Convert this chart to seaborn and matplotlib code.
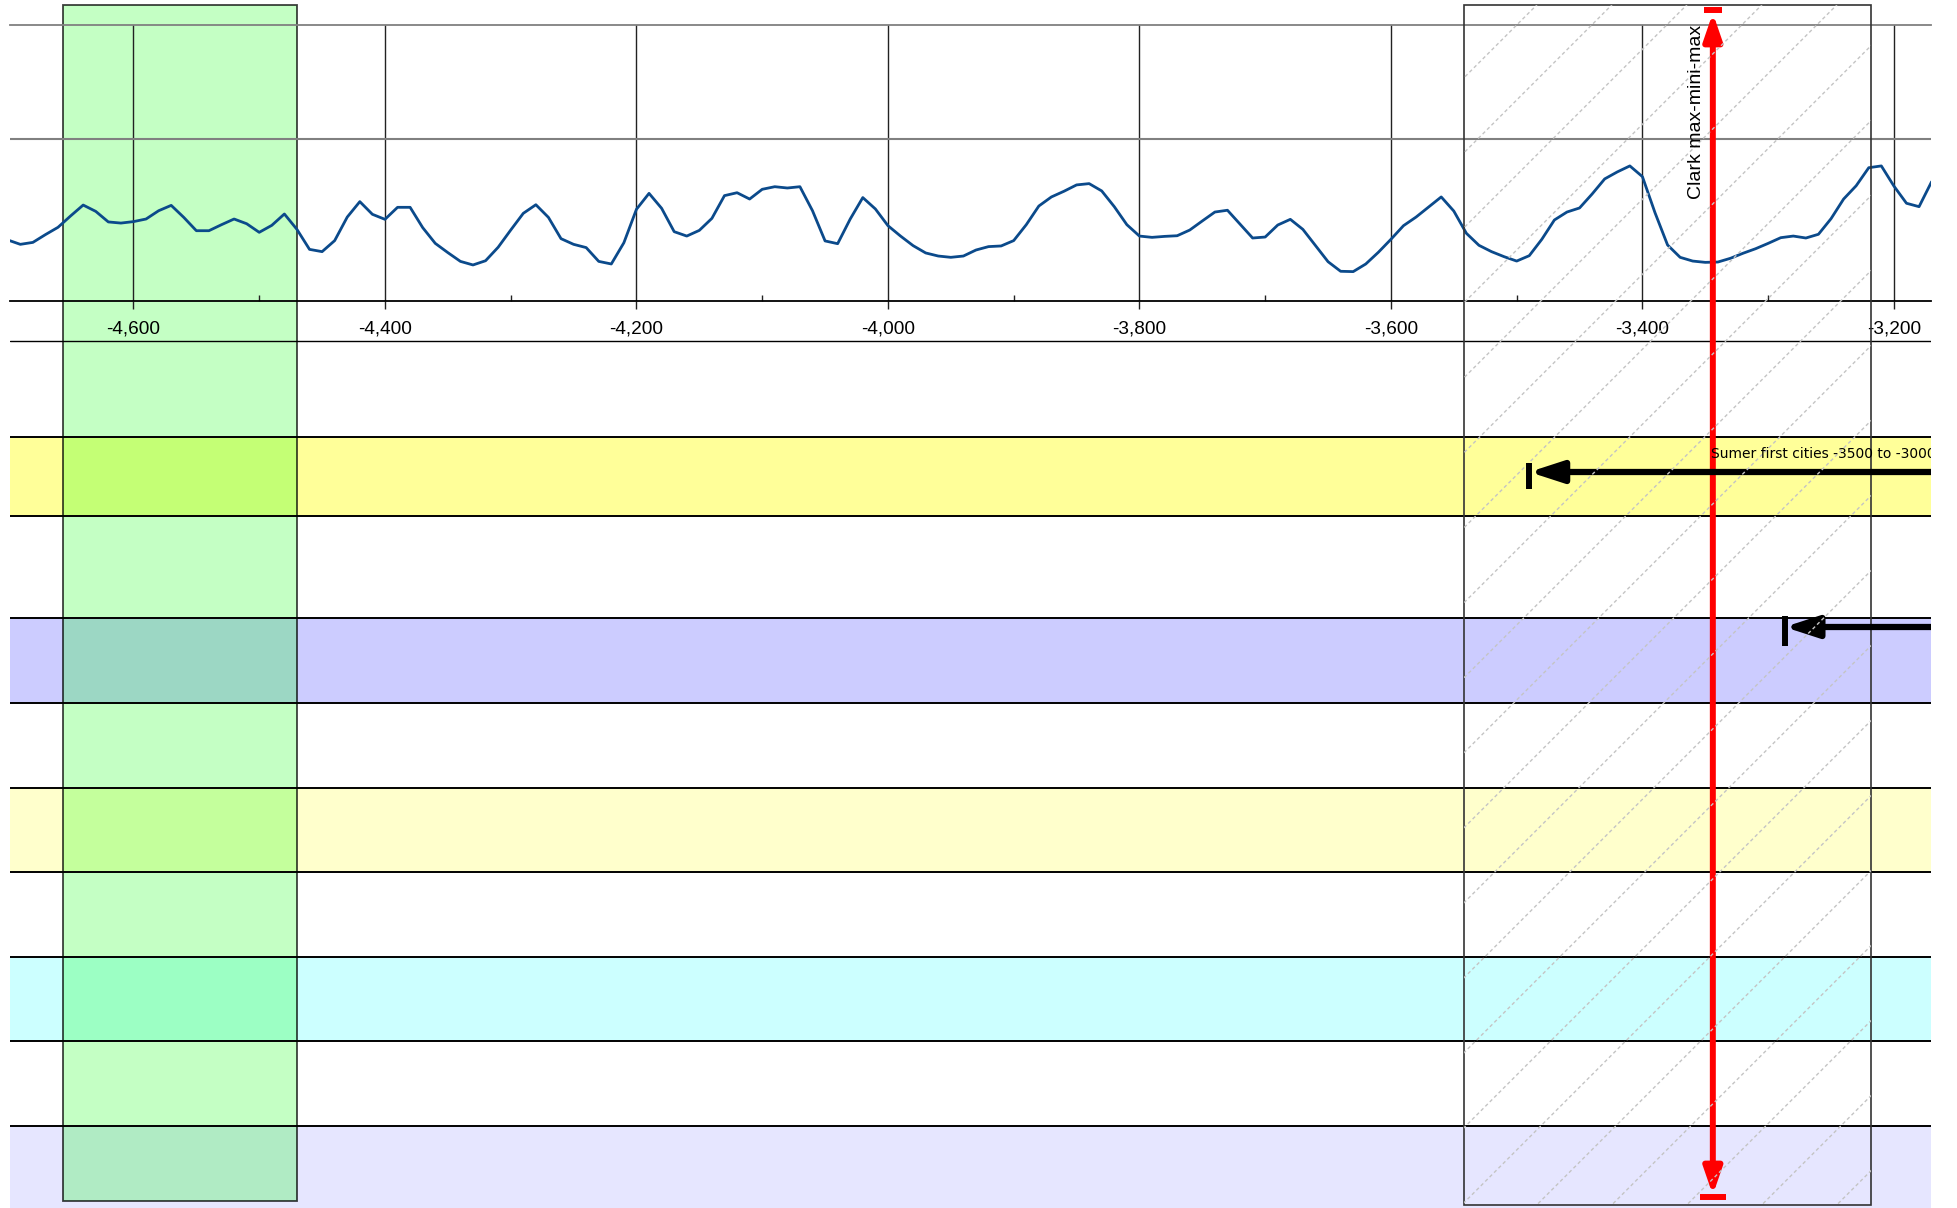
# coding: utf-8
"""
Frise chronologique -4700 / -3170 : courbe du haut et bandes de civilisations
"""

import seaborn as sns
import matplotlib.pyplot as plt
import matplotlib.ticker as tck
from matplotlib.lines import Line2D
from matplotlib.patches import FancyArrowPatch

sns.set_style('white')
plt.rcParams['font.family'] = ['Liberation Sans', 'DejaVu Sans']

# --- données -------------------------------------------------------------
years = [
    -4700, -4690, -4680, -4670, -4660, -4650, -4640, -4630, -4620, -4610,
    -4600, -4590, -4580, -4570, -4560, -4550, -4540, -4530, -4520, -4510,
    -4500, -4490, -4480, -4470, -4460, -4450, -4440, -4430, -4420, -4410,
    -4400, -4390, -4380, -4370, -4360, -4350, -4340, -4330, -4320, -4310,
    -4300, -4290, -4280, -4270, -4260, -4250, -4240, -4230, -4220, -4210,
    -4200, -4190, -4180, -4170, -4160, -4150, -4140, -4130, -4120, -4110,
    -4100, -4090, -4080, -4070, -4060, -4050, -4040, -4030, -4020, -4010,
    -4000, -3990, -3980, -3970, -3960, -3950, -3940, -3930, -3920, -3910,
    -3900, -3890, -3880, -3870, -3860, -3850, -3840, -3830, -3820, -3810,
    -3800, -3790, -3780, -3770, -3760, -3750, -3740, -3730, -3720, -3710,
    -3700, -3690, -3680, -3670, -3660, -3650, -3640, -3630, -3620, -3610,
    -3600, -3590, -3580, -3570, -3560, -3550, -3540, -3530, -3520, -3510,
    -3500, -3490, -3480, -3470, -3460, -3450, -3440, -3430, -3420, -3410,
    -3400, -3390, -3380, -3370, -3360, -3350, -3340, -3330, -3320, -3310,
    -3300, -3290, -3280, -3270, -3260, -3250, -3240, -3230, -3220, -3210,
    -3200, -3190, -3180, -3170,
]
values = [
    0.376, 0.349, 0.361, 0.409, 0.454, 0.524, 0.591, 0.552, 0.487, 0.480,
    0.489, 0.505, 0.556, 0.589, 0.515, 0.433, 0.433, 0.470, 0.505, 0.476,
    0.423, 0.466, 0.536, 0.441, 0.318, 0.304, 0.372, 0.517, 0.612, 0.534,
    0.503, 0.577, 0.577, 0.452, 0.355, 0.298, 0.244, 0.222, 0.248, 0.331,
    0.437, 0.540, 0.593, 0.515, 0.384, 0.349, 0.329, 0.244, 0.228, 0.359,
    0.565, 0.663, 0.571, 0.427, 0.400, 0.435, 0.509, 0.649, 0.667, 0.628,
    0.688, 0.704, 0.696, 0.704, 0.556, 0.370, 0.353, 0.505, 0.637, 0.567,
    0.464, 0.400, 0.341, 0.296, 0.277, 0.269, 0.277, 0.314, 0.335, 0.339,
    0.372, 0.470, 0.585, 0.641, 0.676, 0.715, 0.723, 0.678, 0.581, 0.470,
    0.400, 0.392, 0.398, 0.402, 0.437, 0.493, 0.548, 0.559, 0.474, 0.388,
    0.394, 0.468, 0.503, 0.441, 0.341, 0.242, 0.183, 0.181, 0.228, 0.300,
    0.380, 0.464, 0.517, 0.579, 0.641, 0.554, 0.417, 0.343, 0.304, 0.273,
    0.246, 0.279, 0.380, 0.499, 0.548, 0.573, 0.659, 0.752, 0.795, 0.832,
    0.766, 0.544, 0.345, 0.269, 0.246, 0.238, 0.240, 0.263, 0.294, 0.322,
    0.355, 0.390, 0.400, 0.388, 0.411, 0.507, 0.628, 0.710, 0.821, 0.832,
    0.708, 0.602, 0.581, 0.735,
]
y_grid = [1.0]

green_span = (-4656, -4470)
hatch_span = (-3542, -3218)
clark_year = -3344
clark_label = 'Clark max-mini-max'

sumer_label = 'Sumer first cities -3500 to -3000'
sumer_start, sumer_end = -3500, -3000
sumer_tip = -3490
second_tip, second_tail = -3287, -3000

band_colors = ['#ffff99', '#ccccff', '#ffffcc', '#ccffff', '#e6e6ff']

# --- mise en page (pixels) -----------------------------------------------
W, H = 1958, 1208
PLOT_L, PLOT_R = 10, 1931
CH_TOP, CH_BOT = 25, 301
X_MIN, X_MAX = -4698.2, -3170.5
bands = [(437, 516), (618, 703), (788, 872), (957, 1041), (1126, H)]
row_lines = [341, 437, 516, 618, 703, 788, 872, 957, 1041, 1126]

fig = plt.figure(figsize=(W / 100, H / 100), dpi=100)
rect = [PLOT_L / W, 0, (PLOT_R - PLOT_L) / W, 1]

# fond : bandes + période verte
bg = fig.add_axes(rect)
for (top, bot), col in zip(bands, band_colors):
    bg.axhspan(top, bot, color=col, lw=0)
for y in row_lines:
    bg.axhline(y, color='black', lw=1.0 if y == 341 else 1.4)
bg.axvspan(*green_span, ymin=1 - 1201.3 / H, ymax=1 - 4.7 / H,
           facecolor=(0, 1, 0, 0.23), edgecolor=(0, 0, 0, 0.75), lw=1.3)
bg.set_xlim(X_MIN, X_MAX)
bg.set_ylim(H, 0)
bg.set_axis_off()

# courbe du haut
ax = fig.add_axes([PLOT_L / W, 1 - CH_BOT / H, (PLOT_R - PLOT_L) / W, (CH_BOT - CH_TOP) / H])
ax.set_facecolor('none')
sns.lineplot(x=years, y=values, ax=ax, color='#0b4a8b', linewidth=2.0)
ax.set_xlim(X_MIN, X_MAX)
ax.set_ylim(0, 1.7)
ax.xaxis.set_major_locator(tck.MultipleLocator(200))
ax.xaxis.set_minor_locator(tck.MultipleLocator(100))
ax.xaxis.set_major_formatter(tck.FuncFormatter(lambda v, pos: f'{v:,.0f}'))
ax.set_yticks(y_grid)
ax.tick_params(axis='y', length=0, labelleft=False, left=False)
ax.tick_params(axis='x', which='major', bottom=True, direction='out', length=5.8, width=1,
               color='#222222', pad=8.6, labelsize=13.7, labelcolor='black')
ax.tick_params(axis='x', which='minor', bottom=True, direction='in', length=4.3, width=1,
               color='#222222')
ax.grid(True, axis='x', which='major', color='#222222', lw=1)
ax.grid(True, axis='y', color='#808080', lw=1.5)
ax.spines['left'].set_visible(False)
ax.spines['right'].set_visible(False)
ax.spines['top'].set_color('#808080')
ax.spines['top'].set_linewidth(1.3)
ax.spines['bottom'].set_color('black')
ax.spines['bottom'].set_linewidth(1.3)
ax.set_xlabel('')
ax.set_ylabel('')

# surcouche : zone hachurée, flèches, textes
ov = fig.add_axes(rect)
ov.set_facecolor('none')
box = ov.axvspan(*hatch_span, ymin=1 - 1204.5 / H, ymax=1 - 4.7 / H,
                 fill=False, edgecolor='#333333', lw=1.2)
for k in range(-14, 14):
    c = 10.837 + 0.75 * k
    hatch = Line2D([c, c + H / 100], [0, H / 100], transform=fig.dpi_scale_trans,
                   color='#c4c4c4', lw=1.0, ls=(0, (2.5, 2)))
    ov.add_line(hatch)
    hatch.set_clip_path(box)

ov.add_patch(FancyArrowPatch((clark_year, 1195), (clark_year, 13),
                             arrowstyle='<|-|>,head_length=16,head_width=5.5',
                             mutation_scale=1, color='red', lw=4.3,
                             shrinkA=0, shrinkB=0, clip_on=False))
ov.plot([clark_year], [10], ls='none', marker='_', ms=13, mew=4.3,
        color='red', clip_on=False)
ov.plot([clark_year], [1197], ls='none', marker='_', ms=19, mew=4.3,
        color='red', clip_on=False)
ov.annotate(clark_label, xy=(clark_year, 25), xytext=(-5.5, 0), textcoords='offset points',
            rotation=90, ha='right', va='top', fontsize=14, color='black')

ov.annotate(sumer_label, xy=((sumer_start + sumer_end) / 2, 458), xytext=(-5.4, 0),
            textcoords='offset points', ha='center', va='baseline', fontsize=10,
            family='DejaVu Sans', color='black', annotation_clip=False, clip_on=True)
for tip, tail, y, bar in [(sumer_tip, sumer_end, 472, 19), (second_tip, second_tail, 627, 22)]:
    ov.add_patch(FancyArrowPatch((tail, y), (tip, y),
                                 arrowstyle='-|>,head_length=20,head_width=6.5',
                                 mutation_scale=1, color='black', lw=4.5,
                                 shrinkA=0, shrinkB=0))
    ov.plot([tip], [y + bar / 5], ls='none', marker='|', ms=bar, mew=4.3, color='black')

ov.set_xlim(X_MIN, X_MAX)
ov.set_ylim(H, 0)
ov.set_axis_off()

fig.savefig('out.png', dpi=100)
